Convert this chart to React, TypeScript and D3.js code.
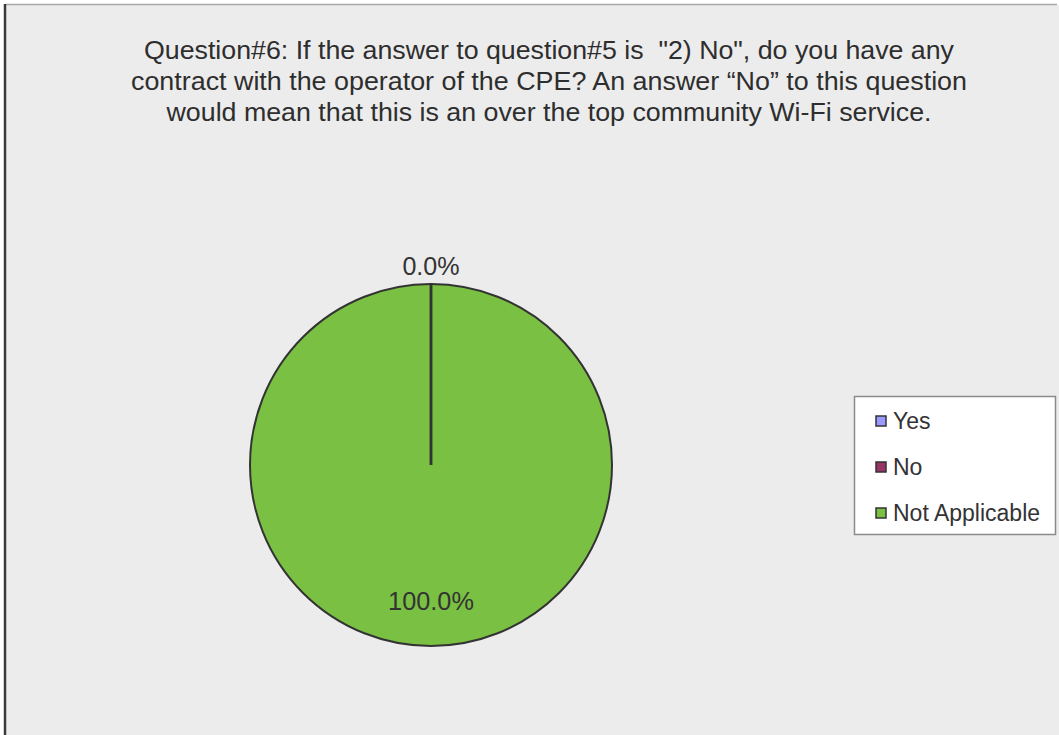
import React from "react";
import * as d3 from "d3";

const categories = ["Yes", "No", "Not Applicable"];
const values = [0, 0, 100];
const colors = ["#9999ff", "#993366", "#7ac143"];
const titleLines = [
  "Question#6: If the answer to question#5 is  \"2) No\", do you have any",
  "contract with the operator of the CPE? An answer \u201CNo\u201D to this question",
  "would mean that this is an over the top community Wi-Fi service.",
];
const titleWidths = [810, 836, 765];

const W = 1059;
const H = 735;
const cx = 431;
const cy = 465;
const R = 181;
const font = "'Liberation Sans', Arial, sans-serif";

export default function App() {
  const total = d3.sum(values);
  const pie = d3
    .pie<number>()
    .sort(null)
    .value((d) => d)
    .startAngle(0)
    .endAngle(2 * Math.PI);
  const arcs = pie(values);
  const arcGen = d3.arc<d3.PieArcDatum<number>>().innerRadius(0).outerRadius(R);
  const fmt = (v: number) => ((v / total) * 100).toFixed(1) + "%";

  return (
    <svg
      width={W}
      height={H}
      style={{ position: "absolute", left: 0, top: 0, display: "block" }}
    >
      <rect x={0} y={0} width={W} height={H} fill="#ffffff" />
      <rect x={5} y={5} width={W - 5} height={H - 5} fill="#ececec" />
      <line x1={5} y1={4.5} x2={W - 2} y2={4.5} stroke="#a8a8a8" strokeWidth={1.5} />
      <line x1={5} y1={4} x2={5} y2={H} stroke="#3a3a3a" strokeWidth={2.5} />

      {titleLines.map((t, i) => (
        <text
          key={i}
          x={549}
          y={59 + i * 31}
          textAnchor="middle"
          fontFamily={font}
          fontSize={25}
          fill="#2e2e2e"
          textLength={titleWidths[i]}
          lengthAdjust="spacingAndGlyphs"
          style={{ whiteSpace: "pre" }}
        >
          {t}
        </text>
      ))}

      <g transform={`translate(${cx},${cy})`}>
        {arcs
          .filter((a) => a.value > 0)
          .map((a, i) => (
            <path
              key={"f" + i}
              d={arcGen(a) || ""}
              fill={colors[a.index]}
              stroke="#333333"
              strokeWidth={2}
            />
          ))}
        {arcs
          .filter((a) => a.value === 0)
          .map((a, i) => {
            const ang = a.startAngle;
            return (
              <line
                key={"z" + i}
                x1={0}
                y1={0}
                x2={R * Math.sin(ang)}
                y2={-R * Math.cos(ang)}
                stroke="#333333"
                strokeWidth={2.5}
              />
            );
          })}
        {arcs.map((a, i) => {
          const mid = (a.startAngle + a.endAngle) / 2;
          const r = a.value === 0 ? R + 18 : R * 0.75;
          if (a.value === 0 && i > 0 && arcs[i - 1].value === 0) return null;
          const label = fmt(a.value);
          return (
            <text
              key={"l" + i}
              x={r * Math.sin(mid)}
              y={-r * Math.cos(mid)}
              dy="0.36em"
              textAnchor="middle"
              fontFamily={font}
              fontSize={26}
              fill="#333333"
              textLength={label.length * 14.3}
              lengthAdjust="spacingAndGlyphs"
            >
              {label}
            </text>
          );
        })}
      </g>

      <g>
        <rect x={854.5} y={396.5} width={201} height={138} fill="#ffffff" stroke="#8a8a8a" strokeWidth={1.5} />
        {categories.map((c, i) => (
          <g key={c} transform={`translate(0,${421 + i * 46})`}>
            <rect x={876} y={-5} width={10} height={10} fill={colors[i]} stroke="#333333" strokeWidth={1.5} />
            <text x={893} y={0} dy="0.36em" fontFamily={font} fontSize={23} fill="#333333">
              {c}
            </text>
          </g>
        ))}
      </g>
    </svg>
  );
}
